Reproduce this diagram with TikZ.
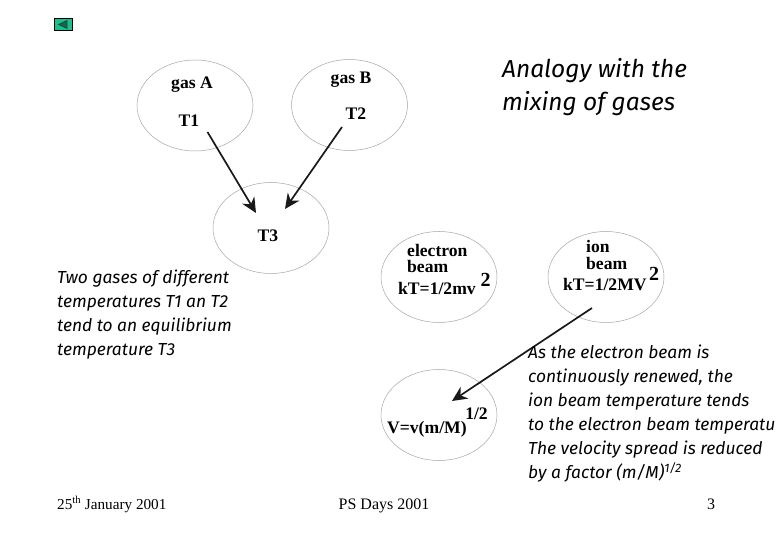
\documentclass[tikz,border=0pt]{standalone}
\usepackage{fontspec}
\setmainfont{Liberation Serif}
\newfontfamily\handfont{Fira Sans}
\usetikzlibrary{shapes.geometric,arrows.meta}
\definecolor{btnfill}{RGB}{30,190,140}
\definecolor{btnmark}{RGB}{20,100,80}
\tikzset{
  blob/.style={ellipse,draw=black!35,line width=0.5pt,minimum width=116pt,minimum height=91pt,inner sep=0pt},
  lab/.style={font=\fontsize{17.6}{17.6}\selectfont\bfseries,inner sep=0pt},
  sup2/.style={font=\fontsize{20}{20}\selectfont\bfseries,inner sep=0pt},
  big/.style={font=\handfont\itshape\fontsize{24.5}{33}\selectfont,inner sep=0pt,align=left,anchor=north west},
  note/.style={font=\handfont\itshape\fontsize{17.4}{24}\selectfont,inner sep=0pt,align=left,anchor=north west},
  foot/.style={font=\fontsize{16}{16}\selectfont,inner sep=0pt,anchor=base},
  flow/.style={-{Stealth[length=15pt,width=14pt]},line width=1.7pt,black!90}
}
\begin{document}
\begin{tikzpicture}[x=1pt,y=-1pt]
\useasboundingbox (0,0) rectangle (780,540);
\fill[white] (0,0) rectangle (780,540);
\node[blob] (gasA) at (195,105.5) {};
\node[blob] (gasB) at (349.5,105) {};
\node[blob] (gasC) at (271,228) {};
\node[blob] (elec) at (439,277) {};
\node[blob] (ion) at (606,277) {};
\node[blob] (vel) at (439,415) {};
\node[lab] (ta) at (192,85) {gas A};
\node[lab] (t1) at (189,121) {T1};
\node[lab] (tb) at (351,80) {gas B};
\node[lab] (t2) at (356,114) {T2};
\node[lab] (t3) at (268,236) {T3};
\node[lab,anchor=west] (e1) at (407,250) {electron};
\node[lab,anchor=west] (e2) at (407,266) {beam};
\node[lab,anchor=west] (e3) at (398,288) {kT=1/2mv};
\node[sup2] (e4) at (485.5,280) {2};
\node[lab,anchor=west] (i1) at (586,246) {ion};
\node[lab,anchor=west] (i2) at (586,263) {beam};
\node[lab,anchor=west] (i3) at (563,285) {kT=1/2MV};
\node[sup2] (i4) at (654,274) {2};
\node[lab,anchor=west] (v1) at (387,429) {V=v(m/M)};
\node[lab] (v2) at (476.5,414) {1/2};
\coordinate (a1) at (207.5,132);
\coordinate (a2) at (256,213);
\coordinate (b1) at (342,127);
\coordinate (b2) at (285,209);
\coordinate (c1) at (592,308);
\coordinate (c2) at (452,401);
\draw[flow] (a1) -- (a2);
\draw[flow] (b1) -- (b2);
\draw[flow] (c1) -- (c2);
\node[big] (title) at (502,58) {Analogy with the\\mixing of gases};
\node[note] (left) at (57,270) {Two gases of different\\temperatures T1 an T2\\tend to an equilibrium\\temperature T3};
\node[note] (right) at (528,345) {As the electron beam is\\continuously renewed, the\\ion beam temperature tends\\to the electron beam temperatu\\The velocity spread is reduced\\by a factor (m/M)\textsuperscript{1/2}};
\node[foot,anchor=base west,font=\fontsize{15.2}{16}\selectfont] (f1) at (57,509) {25\textsuperscript{th} January 2001};
\node[foot] (f2) at (384,509) {PS Days 2001};
\node[foot] (f3) at (711,509) {3};
\node[draw=black,fill=btnfill,minimum width=18pt,minimum height=12.5pt,inner sep=0pt,line width=0.8pt] (btn) at (63.5,24.5) {};
\fill[btnmark,draw=btnmark!70!black,line width=0.6pt] (58.5,24.5) -- (67,20.5) -- (67,28.5) -- cycle;
\end{tikzpicture}
\end{document}
